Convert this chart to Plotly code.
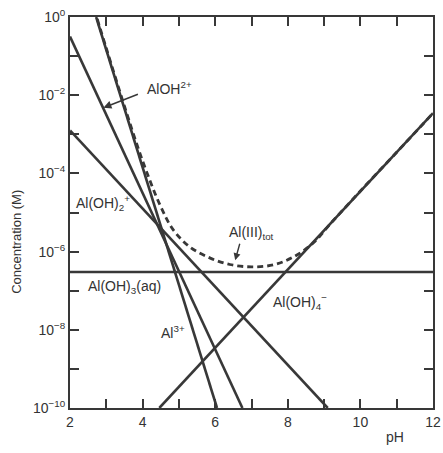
import plotly.graph_objects as go

# ---- data (pH, log10 concentration) ----
al3_ph = [2.72, 6.05]
al3_log = [0.0, -10.0]

aloh_ph = [2.0, 6.75]
aloh_log = [-0.5, -10.0]

aloh2_ph = [2.0, 9.1]
aloh2_log = [-2.9, -10.0]

aloh3_ph = [2.0, 12.0]
aloh3_log = [-6.52, -6.52]

aloh4_ph = [4.46, 12.0]
aloh4_log = [-10.0, -2.46]

tot_ph = [2.75, 3.0, 3.5, 4.0, 4.5, 4.85, 5.3, 5.85, 6.4, 7.0, 7.6, 8.15, 8.7, 9.2, 10.0, 11.0, 12.0]
tot_log = [-0.05, -0.80, -2.28, -3.68, -4.85, -5.45, -5.88, -6.16, -6.33, -6.39, -6.34, -6.14, -5.78, -5.26, -4.45, -3.46, -2.46]

x_ticks = [2, 3, 4, 5, 6, 7, 8, 9, 10, 11, 12]
x_labels = ["2", "", "4", "", "6", "", "8", "", "10", "", "12"]
y_exps = [0, -1, -2, -3, -4, -5, -6, -7, -8, -9, -10]
y_labels = ["10<sup>0</sup>", "", "10<sup>−2</sup>", "", "10<sup>−4</sup>", "",
            "10<sup>−6</sup>", "", "10<sup>−8</sup>", "", "10<sup>−10</sup>"]

LC = "#383838"
FONT = "Liberation Sans, Arial, Helvetica, sans-serif"

def pw(v):
    return [10 ** e for e in v]

fig = go.Figure()
for xs, ys in [(al3_ph, al3_log), (aloh_ph, aloh_log), (aloh2_ph, aloh2_log),
               (aloh3_ph, aloh3_log), (aloh4_ph, aloh4_log)]:
    fig.add_trace(go.Scatter(x=xs, y=pw(ys), mode="lines",
                             line=dict(color=LC, width=2.6), showlegend=False,
                             hoverinfo="skip"))
fig.add_trace(go.Scatter(x=tot_ph, y=pw(tot_log), mode="lines",
                         line=dict(color=LC, width=2.8, dash="6px,4px", shape="spline"),
                         showlegend=False, hoverinfo="skip"))

axis_common = dict(showline=True, linewidth=2, linecolor=LC, mirror="ticks",
                   ticks="inside", ticklen=9, tickwidth=2, tickcolor=LC,
                   showgrid=False, zeroline=False, automargin=False,
                   tickfont=dict(family=FONT, size=14, color="#333"))

fig.update_xaxes(range=[2, 12], tickvals=x_ticks, ticktext=x_labels, **axis_common)
fig.update_yaxes(type="log", range=[-10, 0], tickvals=pw(y_exps), ticktext=y_labels,
                 **axis_common)

tf = dict(family=FONT, size=14, color="#333")
ann = [
    dict(x=4.07, y=-1.82, text="AlOH<sup>2+</sup>", xanchor="left", yanchor="middle"),
    dict(x=2.12, y=-4.76, text="Al(OH)<sub>2</sub><sup>+</sup>", xanchor="left", yanchor="middle"),
    dict(x=2.45, y=-6.9, text="Al(OH)<sub>3</sub>(aq)", xanchor="left", yanchor="middle"),
    dict(x=4.45, y=-8.06, text="Al<sup>3+</sup>", xanchor="left", yanchor="middle"),
    dict(x=7.01, y=-5.52, text="Al(III)<sub>tot</sub>", xanchor="center", yanchor="middle"),
    dict(x=7.55, y=-7.29, text="Al(OH)<sub>4</sub><sup>−</sup>", xanchor="left", yanchor="middle"),
]
annotations = []
for a in ann:
    a.update(xref="x", yref="y", showarrow=False, font=tf)
    annotations.append(a)

# arrows
annotations.append(dict(x=2.92, y=-2.32, xref="x", yref="y", text="", showarrow=True,
                        ax=36, ay=-14, arrowhead=2, arrowsize=1, arrowwidth=1.6,
                        arrowcolor=LC))
annotations.append(dict(x=6.55, y=-6.22, xref="x", yref="y", text="", showarrow=True,
                        ax=5, ay=-18, arrowhead=2, arrowsize=1, arrowwidth=1.4,
                        arrowcolor=LC))

# axis titles
annotations.append(dict(x=-0.146, y=0.425, xref="paper", yref="paper",
                        xanchor="center", yanchor="middle",
                        text="Concentration (M)", textangle=-90, showarrow=False,
                        font=dict(family=FONT, size=13, color="#333")))
annotations.append(dict(x=0.895, y=-0.074, xref="paper", yref="paper",
                        xanchor="center", yanchor="middle",
                        text="pH", showarrow=False,
                        font=dict(family=FONT, size=14, color="#333")))

fig.update_layout(width=443, height=453, autosize=False,
                  margin=dict(l=70, r=10, t=17, b=45, autoexpand=False),
                  plot_bgcolor="white", paper_bgcolor="white",
                  annotations=annotations)

fig.write_html("out.html", config={"displayModeBar": False},
               post_script="document.body.style.margin='0';document.body.style.overflow='hidden';")
